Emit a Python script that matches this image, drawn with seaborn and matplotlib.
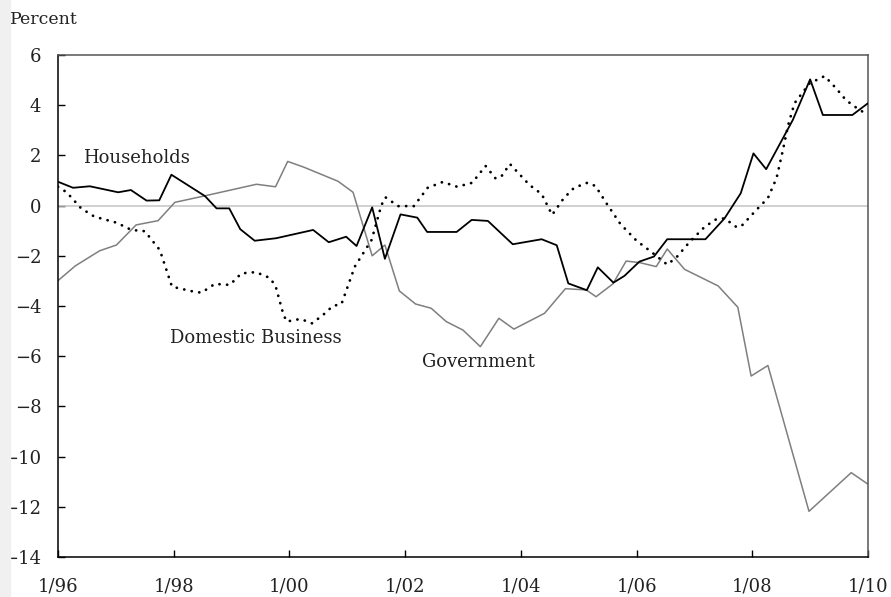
import numpy as np
import pandas as pd
import matplotlib
matplotlib.use("Agg")
import matplotlib.pyplot as plt
import seaborn as sns
from matplotlib.patches import Rectangle

# series (decimal year, percent)
hh_dates = [1996.00, 1996.26, 1996.55, 1997.04, 1997.26, 1997.53, 1997.75, 1997.96,
            1998.54, 1998.74, 1998.96, 1999.15, 1999.40, 1999.77, 2000.41, 2000.68,
            2000.98, 2001.16, 2001.43, 2001.65, 2001.92, 2002.21, 2002.38, 2002.89,
            2003.15, 2003.43, 2003.86, 2004.36, 2004.62, 2004.82, 2005.14, 2005.33,
            2005.60, 2005.79, 2006.05, 2006.30, 2006.53, 2007.19, 2007.52, 2007.80,
            2008.02, 2008.24, 2008.70, 2009.00, 2009.22, 2009.73, 2010.00]
hh_vals = [0.95, 0.71, 0.77, 0.53, 0.62, 0.20, 0.21, 1.23,
           0.38, -0.11, -0.11, -0.94, -1.40, -1.30, -0.97, -1.46,
           -1.24, -1.61, -0.07, -2.12, -0.35, -0.48, -1.05, -1.05,
           -0.57, -0.61, -1.54, -1.34, -1.58, -3.10, -3.37, -2.46,
           -3.07, -2.80, -2.23, -2.03, -1.34, -1.34, -0.51, 0.49,
           2.08, 1.45, 3.41, 5.03, 3.61, 3.61, 4.08]

biz_dates = [1996.00, 1996.15, 1996.40, 1996.63, 1997.01, 1997.27, 1997.50, 1997.76,
             1997.97, 1998.33, 1998.48, 1998.71, 1998.97, 1999.17, 1999.42, 1999.66,
             1999.76, 1999.89, 1999.95, 2000.18, 2000.28, 2000.39, 2000.58, 2000.75,
             2000.90, 2001.13, 2001.42, 2001.59, 2001.66, 2001.88, 2002.15, 2002.39,
             2002.65, 2002.90, 2003.16, 2003.39, 2003.56, 2003.66, 2003.81, 2004.15,
             2004.36, 2004.54, 2004.74, 2004.92, 2005.15, 2005.29, 2005.48, 2005.72,
             2006.00, 2006.23, 2006.53, 2006.69, 2006.92, 2007.18, 2007.38, 2007.52,
             2007.73, 2007.81, 2008.08, 2008.27, 2008.42, 2008.53, 2008.62, 2008.73,
             2008.99, 2009.25, 2009.45, 2009.62, 2009.81, 2009.95]
biz_vals = [0.75, 0.53, -0.11, -0.44, -0.68, -0.97, -1.02, -1.77,
            -3.23, -3.42, -3.47, -3.12, -3.16, -2.70, -2.65, -2.88,
            -3.20, -4.29, -4.62, -4.52, -4.59, -4.69, -4.36, -4.00,
            -3.92, -2.43, -1.37, 0.02, 0.33, -0.02, -0.02, 0.71,
            0.94, 0.75, 0.91, 1.58, 1.09, 1.15, 1.66, 0.82,
            0.46, -0.37, 0.29, 0.71, 0.91, 0.78, 0.09, -0.73,
            -1.40, -1.80, -2.35, -2.06, -1.44, -0.84, -0.54, -0.51,
            -0.86, -0.82, -0.15, 0.30, 1.10, 2.22, 3.21, 4.08,
            4.87, 5.16, 4.67, 4.20, 3.88, 3.68]

gov_dates = [1996.00, 1996.30, 1996.72, 1997.01, 1997.35, 1997.73, 1998.02, 1998.54,
             1999.43, 1999.76, 1999.97, 2000.25, 2000.84, 2001.10, 2001.43, 2001.65,
             2001.90, 2002.18, 2002.45, 2002.71, 2003.00, 2003.30, 2003.62, 2003.88,
             2004.41, 2004.77, 2005.13, 2005.30, 2005.59, 2005.82, 2006.05, 2006.34,
             2006.53, 2006.83, 2007.41, 2007.75, 2007.98, 2008.27, 2008.98, 2009.71,
             2010.00]
gov_vals = [-2.99, -2.40, -1.80, -1.57, -0.77, -0.60, 0.13, 0.39,
            0.85, 0.75, 1.76, 1.53, 0.97, 0.53, -2.00, -1.57,
            -3.40, -3.92, -4.09, -4.62, -4.96, -5.62, -4.49, -4.92,
            -4.29, -3.31, -3.36, -3.63, -3.12, -2.21, -2.27, -2.43,
            -1.73, -2.54, -3.20, -4.05, -6.79, -6.37, -12.18, -10.64,
            -11.10]

x_ticks = [1996, 1998, 2000, 2002, 2004, 2006, 2008, 2010]
x_labels = ["1/96", "1/98", "1/00", "1/02", "1/04", "1/06", "1/08", "1/10"]
y_ticks = [-14, -12, -10, -8, -6, -4, -2, 0, 2, 4, 6]

sns.set_theme(style="ticks")
plt.rcParams["font.family"] = ["DejaVu Serif"]
plt.rcParams["axes.unicode_minus"] = True

fig = plt.figure(figsize=(8.91, 5.97), dpi=100)
fig.patches.append(Rectangle((0, 0), 10 / 891, 1, transform=fig.transFigure,
                             color="#f0f0f0", zorder=0))
ax = fig.add_axes([58 / 891, 1 - 557 / 597, 810 / 891, 502 / 597])

ax.axhline(0, color="#c4c4c4", linewidth=1.1, zorder=1)

gov = pd.DataFrame({"date": gov_dates, "value": gov_vals})
hh = pd.DataFrame({"date": hh_dates, "value": hh_vals})
biz = pd.DataFrame({"date": biz_dates, "value": biz_vals})

sns.lineplot(data=gov, x="date", y="value", ax=ax, color="#7f7f7f", linewidth=1.1,
             estimator=None, sort=False, zorder=2)
sns.lineplot(data=hh, x="date", y="value", ax=ax, color="black", linewidth=1.3,
             estimator=None, sort=False, zorder=3)
sns.lineplot(data=biz, x="date", y="value", ax=ax, color="black", linewidth=2.0,
             estimator=None, sort=False, zorder=4)
ax.lines[-1].set_linestyle((0, (0.05, 2.7)))
ax.lines[-1].set_dash_capstyle("round")

fs = 13
txt_color = "#222222"
ax.text(1996.43, 1.9, "Households", fontsize=fs, va="center", ha="left", color=txt_color)
ax.text(1997.93, -5.27, "Domestic Business", fontsize=fs, va="center", ha="left", color=txt_color)
ax.text(2002.29, -6.23, "Government", fontsize=fs, va="center", ha="left", color=txt_color)
fig.text(10 / 891, 1 - 20 / 597, "Percent", fontsize=fs - 0.5, va="center", ha="left",
         color=txt_color)

ax.set_xlim(1996, 2010)
ax.set_ylim(-14, 6)
ax.set_xticks(x_ticks)
ax.set_xticklabels(x_labels)
ax.set_yticks(y_ticks)
ax.set_xlabel("")
ax.set_ylabel("")
ax.tick_params(axis="both", direction="in", length=5, width=1, color="black",
               labelsize=fs, labelcolor=txt_color)
ax.tick_params(axis="y", pad=12)
ax.tick_params(axis="x", pad=15)

for side in ["left", "bottom"]:
    ax.spines[side].set_color("black")
    ax.spines[side].set_linewidth(1.1)
for side in ["top", "right"]:
    ax.spines[side].set_visible(True)
    ax.spines[side].set_color("#555555")
    ax.spines[side].set_linewidth(1.1)

fig.savefig("out.png", dpi=100)
